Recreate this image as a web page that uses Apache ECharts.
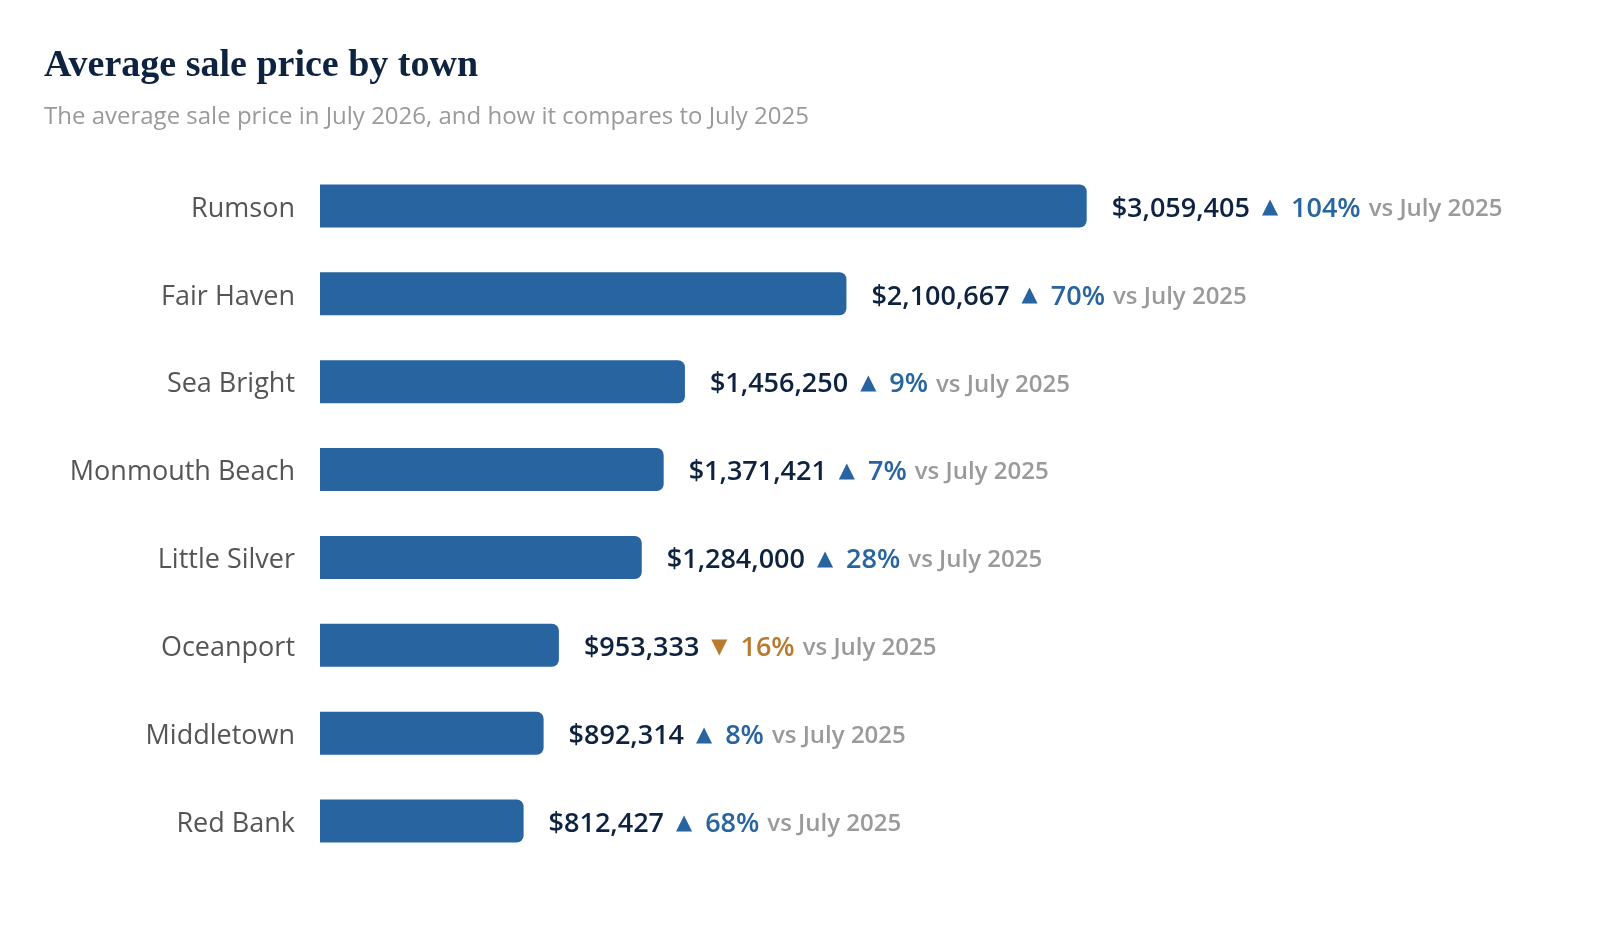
<!DOCTYPE html>
<html>
<head>
<meta charset="utf-8">
<title>Average sale price by town</title>
<script src="https://cdn.jsdelivr.net/npm/echarts@6/dist/echarts.min.js"></script>
<style>
  html, body { margin: 0; padding: 0; background: #fff; }
  #chart { width: 1600px; height: 948px; }
</style>
</head>
<body>
<div id="chart"></div>
<script>
// data
const towns = ["Rumson", "Fair Haven", "Sea Bright", "Monmouth Beach", "Little Silver", "Oceanport", "Middletown", "Red Bank"];
const prices = [3059405, 2100667, 1456250, 1371421, 1284000, 953333, 892314, 812427];
const changes = [104, 70, 9, 7, 28, -16, 8, 68];

const NAVY = "#0d2340";
const BLUE = "#2764a0";
const ORANGE = "#b87a2e";
const GREY = "#9a9a9a";

const chart = echarts.init(document.getElementById("chart"));

chart.setOption({
  animation: false,
  title: {
    text: "Average sale price by town",
    subtext: "The average sale price in July 2026, and how it compares to July 2025",
    left: 39,
    top: 42,
    itemGap: 20,
    textStyle: { fontFamily: "Liberation Serif", fontWeight: "bold", fontSize: 38, color: NAVY },
    subtextStyle: { fontFamily: "Open Sans", fontSize: 24, color: GREY }
  },
  grid: { left: 320, right: 27, top: 162, bottom: 83 },
  xAxis: {
    type: "value",
    min: 0,
    max: 5000000,
    show: false
  },
  yAxis: {
    type: "category",
    data: towns,
    inverse: true,
    axisLine: { show: false },
    axisTick: { show: false },
    axisLabel: {
      margin: 25,
      formatter: "{t|{value}}",
      rich: { t: { fontFamily: "Open Sans", fontSize: 27, color: "#555", padding: [6, 0, 0, 0] } }
    }
  },
  series: [{
    type: "bar",
    data: prices,
    barWidth: 43,
    itemStyle: { color: BLUE, borderRadius: [0, 7, 7, 0] },
    label: {
      show: true,
      position: "right",
      distance: 25,
      offset: [0, 3],
      formatter: (p) => {
        const c = changes[p.dataIndex];
        const money = "$" + p.value.toLocaleString("en-US");
        const up = c >= 0;
        const arrow = up ? "{au|▲}" : "{ad|▼}";
        const pct = up ? "{pu|" + Math.abs(c) + "%}" : "{pd|" + Math.abs(c) + "%}";
        return "{v|" + money + "}" + arrow + pct + "{vs|vs July 2025}";
      },
      rich: {
        v: { fontFamily: "Open Sans", fontWeight: 600, fontSize: 27, color: NAVY },
        au: { fontFamily: "DejaVu Sans", fontSize: 21, color: BLUE, padding: [0, 13, 2, 12] },
        ad: { fontFamily: "DejaVu Sans", fontSize: 21, color: ORANGE, padding: [0, 13, 2, 12] },
        pu: { fontFamily: "Open Sans", fontWeight: 600, fontSize: 27, color: BLUE },
        pd: { fontFamily: "Open Sans", fontWeight: 600, fontSize: 27, color: ORANGE },
        vs: { fontFamily: "Open Sans", fontWeight: 600, fontSize: 24, color: GREY, padding: [0, 0, 0, 8] }
      }
    }
  }]
});
</script>
</body>
</html>
